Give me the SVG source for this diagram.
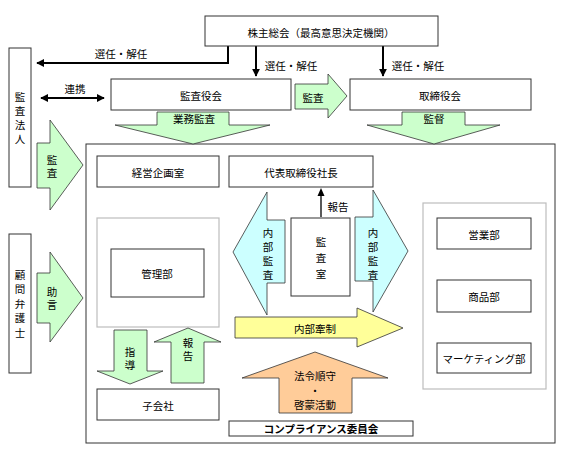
<svg xmlns="http://www.w3.org/2000/svg" width="567" height="452" viewBox="0 0 567 452">
<style>
text{font-family:"Noto Sans CJK JP","Noto Sans CJK SC",sans-serif;font-size:10.5px;fill:#000;text-anchor:middle;dominant-baseline:central}
.v{writing-mode:vertical-rl}
.box{fill:#fff;stroke:#333;stroke-width:1}
.gbox{fill:#fff;stroke:#bdbdbd;stroke-width:1.2}
.arr{stroke:#333;stroke-width:0.8;stroke-linejoin:miter}
.green{fill:#ccffcc}.cyan{fill:#ccffff}.yellow{fill:#ffff99}.orange{fill:#ffcc99}
.ln{fill:none;stroke:#000;stroke-width:2}
.lbl{fill:#fff;stroke:none}
.b{font-weight:bold}
</style>
<defs>
<marker id="ah" viewBox="0 0 10 10" refX="9" refY="5" markerWidth="4" markerHeight="4" orient="auto-start-reverse" markerUnits="strokeWidth">
<path d="M0,0 L10,5 L0,10 z" fill="#000"/>
</marker>
</defs>

<g id="main-frame"><rect class="box" x="86" y="144" width="469" height="299"/></g>
<g id="kanri-group"><rect class="gbox" x="97" y="218" width="122" height="109"/></g>
<g id="eigyo-group"><rect class="gbox" x="423" y="203" width="123" height="186"/></g>

<g id="connectors">
<polyline class="ln" points="228,45 228,63 37,63" marker-end="url(#ah)"/>
<line class="ln" x1="256" y1="45" x2="256" y2="76" marker-end="url(#ah)"/>
<line class="ln" x1="383" y1="45" x2="383" y2="76" marker-end="url(#ah)"/>
<line class="ln" x1="41" y1="98" x2="104" y2="98" marker-start="url(#ah)" marker-end="url(#ah)"/>
<line x1="321" y1="217" x2="321" y2="195" stroke="#000" stroke-width="1.3"/>
<path d="M321,188 L324.5,196 L317.5,196 z" fill="#000"/>
<rect class="lbl" x="90" y="44" width="66" height="18"/>
<rect class="lbl" x="262" y="56" width="60" height="19"/>
<rect class="lbl" x="389" y="56" width="60" height="19"/>
<rect class="lbl" x="60" y="80" width="30" height="16"/>
<rect class="lbl" x="324" y="197" width="39" height="18" stroke="#eee" stroke-width="0.8"/>
<text x="121" y="53">選任・解任</text>
<text x="291" y="65">選任・解任</text>
<text x="418" y="65">選任・解任</text>
<text x="75" y="88">連携</text>
<text x="338" y="206">報告</text>
</g>

<g id="shareholders"><rect class="box" x="205" y="16" width="233" height="30"/><text x="321" y="32">株主総会（最高意思決定機関）</text></g>
<g id="auditors"><rect class="box" x="111" y="79" width="180" height="31"/><text x="201" y="95">監査役会</text></g>
<g id="board"><rect class="box" x="350" y="79" width="181" height="31"/><text x="440" y="95">取締役会</text></g>
<g id="audit-firm"><rect class="box" x="9" y="48" width="22" height="139"/>
<text class="v" x="20" y="119.75" letter-spacing="3.5">監査法人</text></g>
<g id="lawyer"><rect class="box" x="9" y="234" width="22" height="139"/>
<text class="v" x="20" y="306" letter-spacing="4">顧問弁護士</text></g>

<g id="arrow-kansa-left"><polygon class="arr green" points="37,143 50,143 50,120 83,165 50,210 50,188 37,188"/>
<text class="v" x="52" y="167.75" letter-spacing="2.5">監査</text></g>
<g id="arrow-jogen"><polygon class="arr green" points="37,273 50,273 50,252 83,298 50,342 50,323 37,323"/>
<text class="v" x="52" y="299.75" letter-spacing="2.5">助言</text></g>
<g id="arrow-kansa-top"><polygon class="arr green" points="295,84 328,84 328,74 347,96 328,118 328,109 295,109"/>
<text x="313" y="97">監査</text></g>
<g id="arrow-gyomu"><polygon class="arr green" points="157,112 229,112 229,125 270,125 193,144 115,125 157,125"/>
<text x="194" y="118">業務監査</text></g>
<g id="arrow-kantoku"><polygon class="arr green" points="402,112 465,112 465,125 500,125 434,144 367,125 402,125"/>
<text x="434" y="118">監督</text></g>

<g id="keiei"><rect class="box" x="97" y="156" width="122" height="31"/><text x="158" y="172">経営企画室</text></g>
<g id="president"><rect class="box" x="229" y="156" width="144" height="31"/><text x="301" y="172">代表取締役社長</text></g>
<g id="kanribu"><rect class="box" x="111" y="249" width="93" height="48"/><text x="157" y="273">管理部</text></g>
<g id="kansashitsu"><rect class="box" x="291" y="218" width="59" height="78"/>
<text class="v" x="321" y="260.75" letter-spacing="5.5">監査室</text></g>

<g id="arrow-naibu-left"><polygon class="arr cyan" points="285,220 285,283 267,283 267,315 233,252 267,192 267,220"/>
<text class="v" x="268" y="255.75" letter-spacing="3.5">内部監査</text></g>
<g id="arrow-naibu-right"><polygon class="arr cyan" points="355,217 373,217 373,190 408,251 373,312 373,281 355,281"/>
<text class="v" x="373" y="255.75" letter-spacing="3.5">内部監査</text></g>
<g id="arrow-naibukensei"><polygon class="arr yellow" points="235,317 357,317 357,308 403,328 357,347 357,338 235,338"/>
<text x="315" y="328">内部牽制</text></g>

<g id="eigyobu"><rect class="box" x="437" y="218" width="94" height="31"/><text x="484" y="234">営業部</text></g>
<g id="shohinbu"><rect class="box" x="437" y="280" width="94" height="32"/><text x="484" y="296">商品部</text></g>
<g id="marketing"><rect class="box" x="437" y="343" width="94" height="30"/><text x="484" y="358">マーケティング部</text></g>

<g id="arrow-shido"><polygon class="arr green" points="114,330 147,330 147,371 163,371 130,384 97,371 114,371"/>
<text class="v" x="130" y="359.75" letter-spacing="2.5">指導</text></g>
<g id="arrow-hokoku"><polygon class="arr green" points="188,328 221,342 204,342 204,383 171,383 171,342 154,342"/>
<text class="v" x="188" y="350.75" letter-spacing="2.5">報告</text></g>
<g id="kogaisha"><rect class="box" x="97" y="389" width="122" height="31"/><text x="158" y="405">子会社</text></g>

<g id="arrow-compliance"><polygon class="arr orange" points="315,352 388,378 352,378 352,413 279,413 279,378 242,378"/>
<text font-size="10"><tspan x="315" y="375">法令順守</tspan><tspan x="315" y="389.5">・</tspan><tspan x="315" y="404">啓蒙活動</tspan></text></g>
<g id="compliance"><rect class="box" x="229" y="421" width="184" height="15"/><text class="b" x="321" y="428.5">コンプライアンス委員会</text></g>
</svg>
